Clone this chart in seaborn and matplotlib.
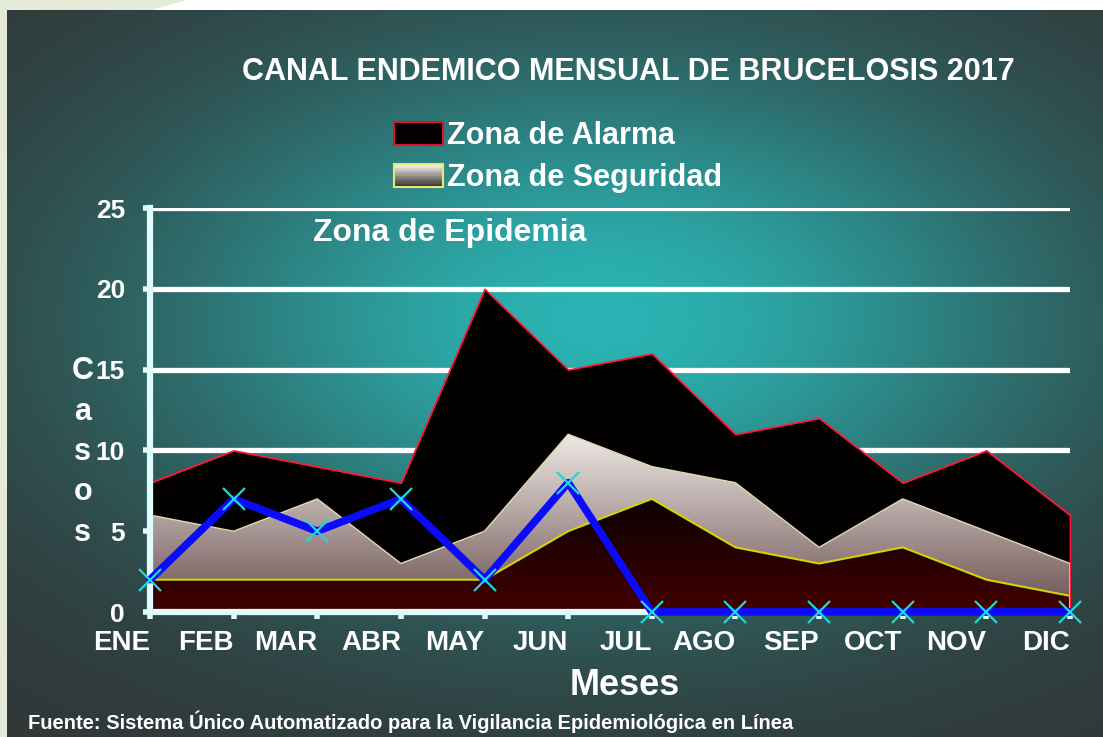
import numpy as np
import matplotlib
matplotlib.use("Agg")
import matplotlib.pyplot as plt
import seaborn as sns
from matplotlib.patches import Patch, Rectangle
from matplotlib.legend_handler import HandlerBase
from matplotlib.colors import LinearSegmentedColormap

# ---------------- data ----------------
meses = ["ENE", "FEB", "MAR", "ABR", "MAY", "JUN", "JUL", "AGO", "SEP", "OCT", "NOV", "DIC"]
zona_alarma = [8, 10, 9, 8, 20, 15, 16, 11, 12, 8, 10, 6]
zona_seguridad = [6, 5, 7, 3, 5, 11, 9, 8, 4, 7, 5, 3]
zona_exito = [2, 2, 2, 2, 2, 5, 7, 4, 3, 4, 2, 1]
casos_2017 = [2, 7, 5, 7, 2, 8, 0, 0, 0, 0, 0, 0]
yticks = [0, 5, 10, 15, 20, 25]

titulo = "CANAL ENDEMICO MENSUAL DE BRUCELOSIS 2017"
leyenda = ["Zona de Alarma", "Zona de Seguridad"]
fuente = "Fuente: Sistema Único Automatizado para la Vigilancia Epidemiológica en Línea"

# ---------------- style ----------------
sns.set_theme(style="white")
NARROW = ['Liberation Sans Narrow', 'Liberation Sans', 'DejaVu Sans']
WIDE = ['Liberation Sans', 'DejaVu Sans']
plt.rcParams['font.family'] = NARROW
plt.rcParams['font.weight'] = 'bold'
plt.rcParams['axes.labelweight'] = 'bold'

W, H = 1103, 737
fig = plt.figure(figsize=(W / 100, H / 100), dpi=100)

# background panel (soft teal glow)
bg = fig.add_axes([0, 0, 1, 1], zorder=-10)
yy, xx = np.mgrid[0:H, 0:W]
t = np.exp(-((xx - 600) / 470.0) ** 2 - ((yy - 320) / 270.0) ** 2)
dark = np.array([0.19, 0.21, 0.21])
teal = np.array([0.17, 0.70, 0.70])
img = dark + t[..., None] * (teal - dark)
outside = (yy < 10) | (xx < 7)
img[outside] = 1.0
green = np.array([0.90, 0.92, 0.85])
swoosh = ((yy < 10) & (xx < 185 - 3.5 * yy)) | (xx < 7)
img[swoosh] = green
bg.imshow(img, aspect='auto', interpolation='bilinear')
bg.axis('off')

# main axes
L, R = 150 / W, 1070 / W
B, T = 1 - 612 / H, 1 - 208 / H
ax = fig.add_axes([L, B, R - L, T - B])
ax.patch.set_alpha(0)
x = np.arange(len(meses))


def grad_fill(ax, xs, ys, c_bot, c_top, y_bot, y_top, edge, lw, z):
    poly = ax.fill_between(xs, 0, ys, facecolor='none', edgecolor=edge,
                           linewidth=lw, zorder=z + 0.1)
    cmap = LinearSegmentedColormap.from_list('g', [c_bot, c_top])
    grad = np.linspace(0, 1, 256).reshape(-1, 1)
    im = ax.imshow(grad, cmap=cmap, origin='lower', aspect='auto',
                   extent=[xs[0], xs[-1], y_bot, y_top], zorder=z,
                   interpolation='bicubic')
    im.set_clip_path(poly.get_paths()[0], ax.transData)


ax.fill_between(x, 0, zona_alarma, facecolor='#030000', edgecolor='#ff1a3c',
                linewidth=1.3, zorder=2)
grad_fill(ax, x, zona_seguridad, '#6a5050', '#f4f0ec', 0,
          max(zona_seguridad) + 0.5, '#dcdcb0', 1.0, 3)
grad_fill(ax, x, zona_exito, '#420000', '#0a0000', 0,
          max(zona_exito) + 0.2, '#d4d400', 1.5, 4)

sns.lineplot(x=x, y=casos_2017, ax=ax, color='#0a0aff', linewidth=5.5,
             marker='x', markersize=16, markeredgecolor='#20d8d8',
             markeredgewidth=1.6, zorder=7, clip_on=False)

ax.set_xlim(0, 11)
ax.set_ylim(0, 25)
ax.set_yticks(yticks)
ax.set_xticks(x)
ax.set_xticklabels(meses, ha='right')
ax.set_axisbelow(True)
ax.yaxis.grid(True, color='white', linewidth=3.8)
ax.xaxis.grid(False)

for s in ['top', 'right']:
    ax.spines[s].set_visible(False)
for s in ['left', 'bottom']:
    ax.spines[s].set_color('#e0fbfb')
    ax.spines[s].set_linewidth(4.5)
    ax.spines[s].set_zorder(6)

ax.tick_params(axis='both', direction='out', color='#e0fbfb', length=5, width=4,
               labelcolor='white', left=True, bottom=True)
ax.tick_params(axis='y', labelsize=19, pad=13)
ax.tick_params(axis='x', labelsize=20, pad=8)

ax.set_ylabel("C\na\ns\no\ns", rotation=0, fontsize=22, family=WIDE,
              fontweight='bold', color='white', linespacing=1.45,
              ha='center', va='center')
ax.yaxis.set_label_coords(-0.073, 0.396)
ax.set_xlabel("Meses", fontsize=26, fontweight='bold', color='white', va='center')
ax.xaxis.set_label_coords(0.516, -0.181)

# texts
fig.text(0.570, 1 - 72 / H, titulo, ha='center', va='center', fontsize=22,
         color='white')
fig.text(313 / W, 1 - 233 / H, "Zona de Epidemia", ha='left', va='center',
         fontsize=23, family=WIDE, color='white')
fig.text(28 / W, 1 - 722 / H, fuente, ha='left', va='center', fontsize=14.5,
         color='white')


# legend with gradient handle
class GradHandler(HandlerBase):
    def create_artists(self, legend, orig_handle, xdescent, ydescent,
                       width, height, fontsize, trans):
        cmap = LinearSegmentedColormap.from_list('lg', ['#3a3434', '#f4f0ec'])
        n = 14
        arts = []
        for i in range(n):
            r = Rectangle((-xdescent, -ydescent + i * height / n), width,
                          height / n + 0.3, facecolor=cmap(i / (n - 1)),
                          edgecolor='none', transform=trans)
            arts.append(r)
        arts.append(Rectangle((-xdescent, -ydescent), width, height,
                              facecolor='none', edgecolor='#e8e870',
                              linewidth=1.5, transform=trans))
        return arts


h_alarma = Patch(facecolor='#050000', edgecolor='#e01030', linewidth=1.5)
h_seg = Patch(facecolor='#a09590')
fig.legend([h_alarma, h_seg], leyenda, loc='upper left',
           bbox_to_anchor=(394 / W, 1 - 121 / H), frameon=False,
           prop=dict(family=WIDE, weight='bold', size=22), labelcolor='white',
           handlelength=1.6, handleheight=0.75, handletextpad=0.12,
           labelspacing=0.4, borderpad=0, borderaxespad=0,
           handler_map={h_seg: GradHandler()})

fig.savefig("out.png", dpi=100)
